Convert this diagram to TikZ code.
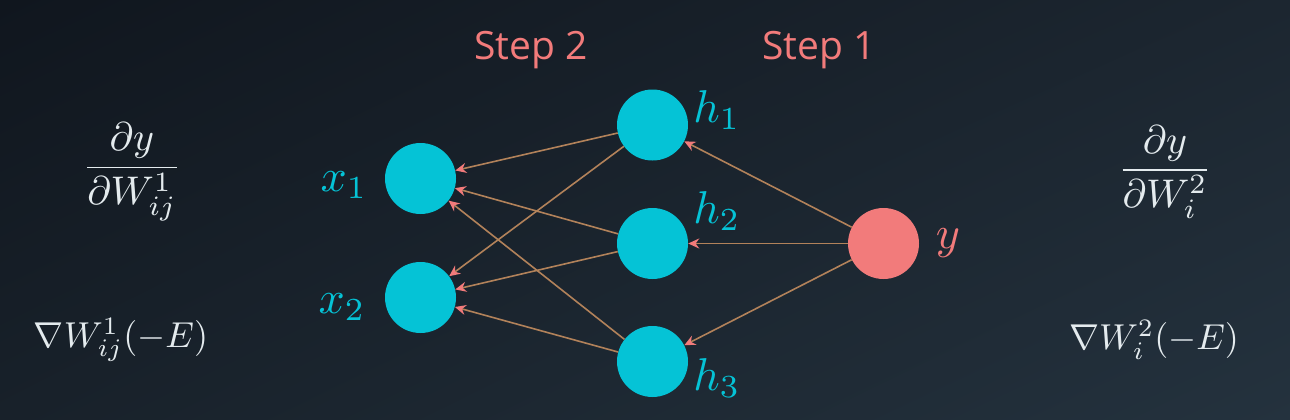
\documentclass[tikz,border=0pt]{standalone}
\usepackage{amsmath}
\usepackage{fontspec}
\setmainfont{Open Sans}
\usetikzlibrary{arrows.meta,shadings}
\definecolor{bgtl}{HTML}{10161E}
\definecolor{bgtr}{HTML}{1C2630}
\definecolor{bgbl}{HTML}{18212A}
\definecolor{bgbr}{HTML}{24323E}
\definecolor{cyanc}{HTML}{05C3D6}
\definecolor{salmonc}{HTML}{F27B7B}
\definecolor{linec}{HTML}{B2825A}
\definecolor{mathc}{HTML}{E4EBEE}
\tikzset{
  neuron/.style={circle, fill=#1, minimum size=71pt, inner sep=0pt, draw=none},
  lbl/.style={text=#1, inner sep=0pt, font=\fontsize{10}{12}\selectfont, scale=4.6},
  steplbl/.style={text=salmonc, inner sep=0pt, font=\fontsize{39}{48}\selectfont},
  formula/.style={text=mathc, inner sep=0pt, font=\fontsize{10}{12}\selectfont, scale=3.6},
  fracf/.style={text=mathc, inner sep=0pt, font=\fontsize{10}{12}\selectfont, scale=4.0},
  conn/.style={draw=linec, line width=1.6pt, -{Stealth[length=11pt,width=10pt,color=salmonc]}}
}
\begin{document}
\begin{tikzpicture}[x=1pt,y=-1pt]
\shade[upper left=bgtl, upper right=bgtr, lower left=bgbl, lower right=bgbr] (0,0) rectangle (1290,420);
\useasboundingbox (0,0) rectangle (1290,420);

\node[neuron=cyanc] (x1) at (420.5,178.5) {};
\node[neuron=cyanc] (x2) at (420.5,297.5) {};
\node[neuron=cyanc] (h1) at (652.5,125) {};
\node[neuron=cyanc] (h2) at (652.5,243.5) {};
\node[neuron=cyanc] (h3) at (652.5,361.5) {};
\node[neuron=salmonc] (y) at (883.5,243.5) {};

\node[lbl=cyanc] (lx1) at (344,185) {$x_1$};
\node[lbl=cyanc] (lx2) at (342,307) {$x_2$};
\node[lbl=cyanc] (lh1) at (717,110) {$h_1$};
\node[lbl=cyanc] (lh2) at (717,211) {$h_2$};
\node[lbl=cyanc] (lh3) at (717,378) {$h_3$};
\node[lbl=salmonc] (ly) at (948,243) {$y$};

\node[steplbl] (s2) at (531,50) {Step 2};
\node[steplbl] (s1) at (819,50) {Step 1};

\node[fracf] (f1) at (132,172) {$\dfrac{\partial y}{\partial W^1_{ij}}$};
\node[fracf] (f2) at (1165,172) {$\dfrac{\partial y}{\partial W^2_{i}}$};
\node[formula] (g1) at (121,340) {$\nabla W^1_{ij}(-E)$};
\node[formula] (g2) at (1154,340) {$\nabla W^2_{i}(-E)$};

\foreach \h in {h1,h2,h3}{
  \foreach \x in {x1,x2}{
    \draw[conn] (\h) -- (\x);
  }
  \draw[conn] (y) -- (\h);
}
\end{tikzpicture}
\end{document}
